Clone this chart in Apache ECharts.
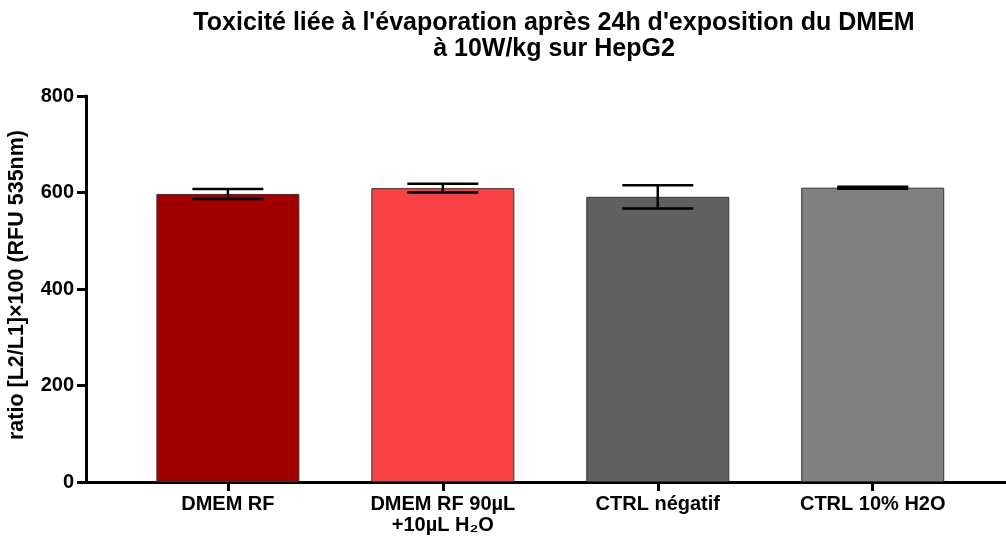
<!DOCTYPE html>
<html>
<head>
<meta charset="utf-8">
<script src="https://cdn.jsdelivr.net/npm/echarts@6/dist/echarts.min.js"></script>
<style>
  html, body { margin: 0; padding: 0; background: #fff; }
  #chart { width: 1006px; height: 540px; }
</style>
</head>
<body>
<div id="chart"></div>
<script>
// Groups, means and standard deviations
const categories = ['DMEM RF', 'DMEM RF 90µL\n+10µL H₂O', 'CTRL négatif', 'CTRL 10% H2O'];
const means = [597, 609, 591, 610];
const errors = [10.5, 9, 24, 2];
const barColors = ['#a00000', '#f84244', '#606060', '#808080'];
const yTicks = [0, 200, 400, 600, 800];
const positions = [0, 1, 2, 3];

const font = 'Liberation Sans, Arial, sans-serif';

const barData = means.map((m, i) => ({
  value: [positions[i], m],
  itemStyle: { color: barColors[i] }
}));
const errData = means.map((m, i) => [positions[i], m - errors[i], m + errors[i]]);

const chart = echarts.init(document.getElementById('chart'), null, { renderer: 'canvas' });

chart.setOption({
  animation: false,
  backgroundColor: '#fff',
  title: {
    text: "Toxicité liée à l'évaporation après 24h d'exposition du DMEM\nà 10W/kg sur HepG2",
    left: 549,
    top: 5,
    textAlign: 'center',
    textStyle: {
      fontFamily: font,
      fontWeight: 'bold',
      fontSize: 25,
      lineHeight: 26,
      color: '#000'
    }
  },
  grid: {
    left: 86, top: 96, bottom: 58, width: 920,
    containLabel: false, outerBoundsMode: 'none'
  },
  xAxis: {
    type: 'value',
    min: -0.66,
    max: 3.62,
    splitLine: { show: false },
    axisLine: { show: true, lineStyle: { color: '#000', width: 3 } },
    axisTick: {
      show: true, customValues: positions, length: 9,
      lineStyle: { color: '#000', width: 3 }
    },
    axisLabel: {
      customValues: positions,
      margin: 12,
      fontFamily: font,
      fontWeight: 'bold',
      fontSize: 20,
      lineHeight: 21,
      color: '#000',
      formatter: v => categories[Math.round(v)]
    }
  },
  yAxis: {
    type: 'value',
    min: yTicks[0],
    max: yTicks[yTicks.length - 1],
    interval: 200,
    name: 'ratio [L2/L1]×100 (RFU 535nm)',
    nameLocation: 'middle',
    nameGap: 58,
    nameTextStyle: {
      fontFamily: font, fontWeight: 'bold', fontSize: 21.5, color: '#000',
      padding: [0, 0, 0, 8]
    },
    splitLine: { show: false },
    axisLine: { show: true, onZero: false, lineStyle: { color: '#000', width: 3 } },
    axisTick: { show: true, length: 9, lineStyle: { color: '#000', width: 3 } },
    axisLabel: {
      margin: 12,
      fontFamily: font, fontWeight: 'bold', fontSize: 20, color: '#000'
    }
  },
  series: [
    {
      type: 'bar',
      data: barData,
      barWidth: 143,
      itemStyle: { borderColor: '#333', borderWidth: 1 },
      z: 2
    },
    {
      type: 'custom',
      data: errData,
      z: 3,
      renderItem: function (params, api) {
        const x = api.value(0);
        const lo = api.coord([x, api.value(1)]);
        const hi = api.coord([x, api.value(2)]);
        const half = 35.5;
        const style = { stroke: '#000', lineWidth: 2.5 };
        return {
          type: 'group',
          children: [
            { type: 'line', shape: { x1: lo[0], y1: lo[1], x2: hi[0], y2: hi[1] }, style },
            { type: 'line', shape: { x1: hi[0] - half, y1: hi[1], x2: hi[0] + half, y2: hi[1] }, style },
            { type: 'line', shape: { x1: lo[0] - half, y1: lo[1], x2: lo[0] + half, y2: lo[1] }, style }
          ]
        };
      }
    }
  ]
});
</script>
</body>
</html>
